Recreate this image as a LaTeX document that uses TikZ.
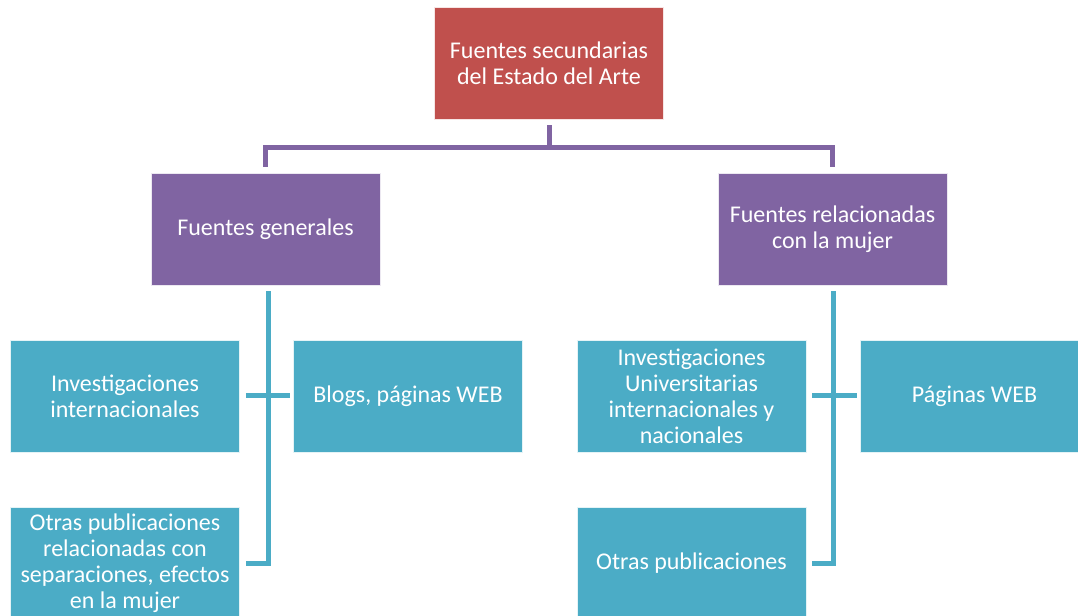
\documentclass[tikz,border=0pt]{standalone}
\usepackage{fontspec}
\setmainfont{Carlito}
\usepackage{tikz}
\usetikzlibrary{calc}
\definecolor{cajaroja}{HTML}{C0504D}
\definecolor{cajamorada}{HTML}{8064A2}
\definecolor{cajaceleste}{HTML}{4BACC6}
\tikzset{
  caja/.style={minimum width=171.75pt, minimum height=84pt, inner sep=2pt, align=center,
    text=white, draw=white!85!#1, line width=0.6pt, fill=#1,
    font=\fontsize{18}{19.5}\selectfont},
  lineamorada/.style={cajamorada, line width=3.75pt},
  lineaceleste/.style={cajaceleste, line width=3.75pt}
}

\begin{document}
\begin{tikzpicture}[x=0.75pt, y=-0.75pt]
\useasboundingbox (0,0) rectangle (1078,616);
\node[caja=cajaroja] (fuentes) at (549,63) {Fuentes secundarias\\del Estado del Arte};
\node[caja=cajamorada] (generales) at (265.5,229) {Fuentes generales};
\node[caja=cajamorada] (mujer) at (832.5,229) {Fuentes relacionadas\\con la mujer};
\node[caja=cajaceleste] (invint) at (125,396) {Investigaciones\\internacionales};
\node[caja=cajaceleste] (blogs) at (408,396) {Blogs, páginas WEB};
\node[caja=cajaceleste] (otrasgen) at (125,563) {Otras publicaciones\\relacionadas con\\separaciones, efectos\\en la mujer};
\node[caja=cajaceleste] (invuni) at (691.5,396) {Investigaciones\\Universitarias\\internacionales y\\nacionales};
\node[caja=cajaceleste] (paginas) at (974.5,396) {Páginas WEB};
\node[caja=cajaceleste] (otrasmuj) at (691.5,563) {Otras publicaciones};
\draw[lineamorada] (fuentes.south) ++(0,6) -- ++(0,22) coordinate (rama);
\draw[lineamorada] (rama) -| ([yshift=4.5pt]generales.north);
\draw[lineamorada] (rama) -| ([yshift=4.5pt]mujer.north);
\draw[lineaceleste] (generales.south) ++(2.5,6) |- ([xshift=4.5pt]otrasgen.east);
\draw[lineaceleste] ([xshift=4.5pt]invint.east) -- ([xshift=-2.25pt]blogs.west);
\draw[lineaceleste] (mujer.south) ++(0.5,6) |- ([xshift=4.5pt]otrasmuj.east);
\draw[lineaceleste] ([xshift=4.5pt]invuni.east) -- ([xshift=-2.25pt]paginas.west);
\end{tikzpicture}
\end{document}
